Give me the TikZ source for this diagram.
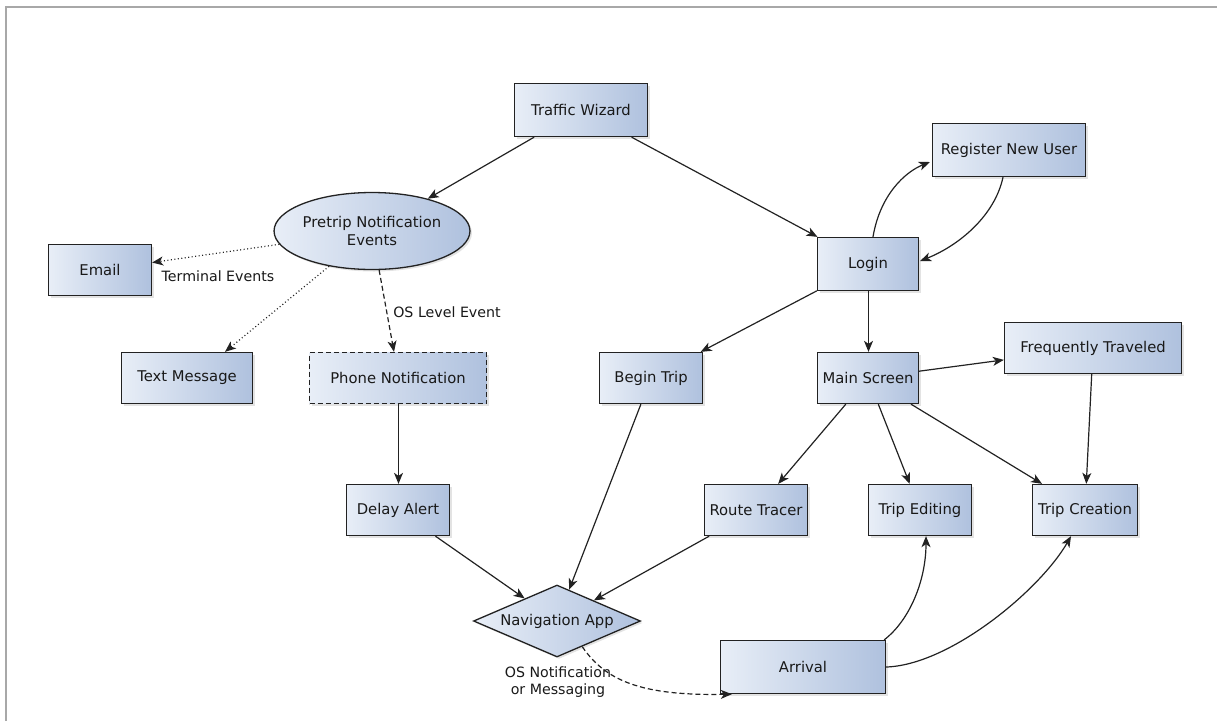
\documentclass[tikz,border=0pt]{standalone}
\usepackage{fontspec}
\setmainfont{DejaVu Sans}
\usetikzlibrary{shapes.geometric,arrows.meta,shadows,calc}

\definecolor{boxlight}{HTML}{E8EEF7}
\definecolor{boxdark}{HTML}{AFC1DE}
\definecolor{inkgray}{HTML}{222222}
\definecolor{framegray}{HTML}{A8A8A8}

\tikzset{
  shape base/.style={draw=inkgray, line width=1.3pt,
    left color=boxlight, right color=boxdark,
    text=black!90, align=center, inner sep=2pt,
    font=\fontsize{14.8}{18}\selectfont,
    drop shadow={shadow xshift=2pt, shadow yshift=-2pt, opacity=0.22}},
  nodebox/.style={shape base, rectangle, minimum height=51pt},
  eventoval/.style={shape base, ellipse, minimum width=177pt, minimum height=77pt, inner sep=0pt},
  appdiamond/.style={shape base, diamond, aspect=2.3, minimum width=167pt, minimum height=72pt, inner sep=0pt},
  tag/.style={font=\fontsize{14.2}{17}\selectfont, text=black!90, align=center, inner sep=0pt},
  link/.style={draw=inkgray, line width=1.2pt, -{Stealth[length=11pt,width=9pt,inset=3pt]}},
  dotlink/.style={link, dash pattern=on 1pt off 2.5pt},
  dashlink/.style={link, dash pattern=on 5pt off 3pt},
}

\begin{document}
\begin{tikzpicture}[x=1pt, y=-1pt]
\useasboundingbox (0,0) rectangle (1217,721);

% page frame
\draw[framegray, line width=2pt] (6,721) -- (6,7) -- (1217,7);

% nodes
\node[nodebox, minimum width=133pt, minimum height=53pt] (tw) at (581,110) {Traffic Wizard};
\node[eventoval] (pre) at (372,231) {Pretrip Notification\\Events};
\node[nodebox, minimum width=103pt] (email) at (100,270) {Email};
\node[nodebox, minimum width=131pt] (txt) at (187,378) {Text Message};
\node[nodebox, minimum width=177pt, dashed, dash pattern=on 5pt off 3pt] (phone) at (398,378) {Phone Notification};
\node[nodebox, minimum width=103pt] (delay) at (398,510) {Delay Alert};
\node[nodebox, minimum width=103pt] (begin) at (651,378) {Begin Trip};
\node[nodebox, minimum width=101pt, minimum height=53pt] (login) at (868,264) {Login};
\node[nodebox, minimum width=153pt, minimum height=53pt] (reg) at (1009,150) {Register New User};
\node[nodebox, minimum width=101pt] (main) at (868,378) {Main Screen};
\node[nodebox, minimum width=177pt] (freq) at (1093,348) {Frequently Traveled};
\node[nodebox, minimum width=103pt] (route) at (756,510) {Route Tracer};
\node[nodebox, minimum width=103pt] (edit) at (920,510) {Trip Editing};
\node[nodebox, minimum width=105pt] (create) at (1085,510) {Trip Creation};
\node[appdiamond] (nav) at (557,621) {Navigation App};
\node[nodebox, minimum width=165pt, minimum height=53pt] (arr) at (803,667) {Arrival};

% edge labels
\node[tag] (lterm) at (218,276) {Terminal Events};
\node[tag] (los) at (447,312) {OS Level Event};
\node[tag] (lmsg) at (558,682) {OS Notification\\or Messaging};

% connectors
\draw[link] (tw) -- (pre);
\draw[link] (tw) -- (login);
\draw[link] ($(login.north)+(5,0)$) .. controls (880,195) and (905,172) .. ($(reg.west)+(-2,12)$);
\draw[link] ($(reg.south)+(-6,0)$) .. controls (995,215) and (960,245) .. ($(login.east)+(1,-3)$);
\draw[link] (login) -- (begin);
\draw[link] ($(login.south)+(0.5,0)$) -- ($(main.north)+(0.5,0)$);
\draw[link] (main) -- (freq);
\draw[link] (main) -- (route);
\draw[link] (main) -- (edit);
\draw[link] (main) -- (create);
\draw[link] (freq) -- (create);

\draw[dotlink] (pre) -- (email);
\draw[dotlink] (pre) -- ($(txt.north)+(38,0)$);
\draw[dashlink] (pre) -- ($(phone.north)+(-4,0)$);
\draw[link] ($(phone.south)+(0.5,0)$) -- ($(delay.north)+(0.5,0)$);

\draw[link] (delay) -- (nav);
\draw[link] (begin) -- (nav);
\draw[link] (route) -- (nav);

\draw[dashlink] ($(nav.south)!0.3!(nav.east)$) .. controls (605,680) and (640,696) .. ($(arr.south west)+(12,0)$);
\draw[link] ($(arr.north east)+(-2,0)$) .. controls (910,620) and (926,580) .. ($(edit.south)+(6,0)$);
\draw[link] (arr.east) .. controls (950,665) and (1040,590) .. ($(create.south)+(-14,0)$);
\end{tikzpicture}
\end{document}
